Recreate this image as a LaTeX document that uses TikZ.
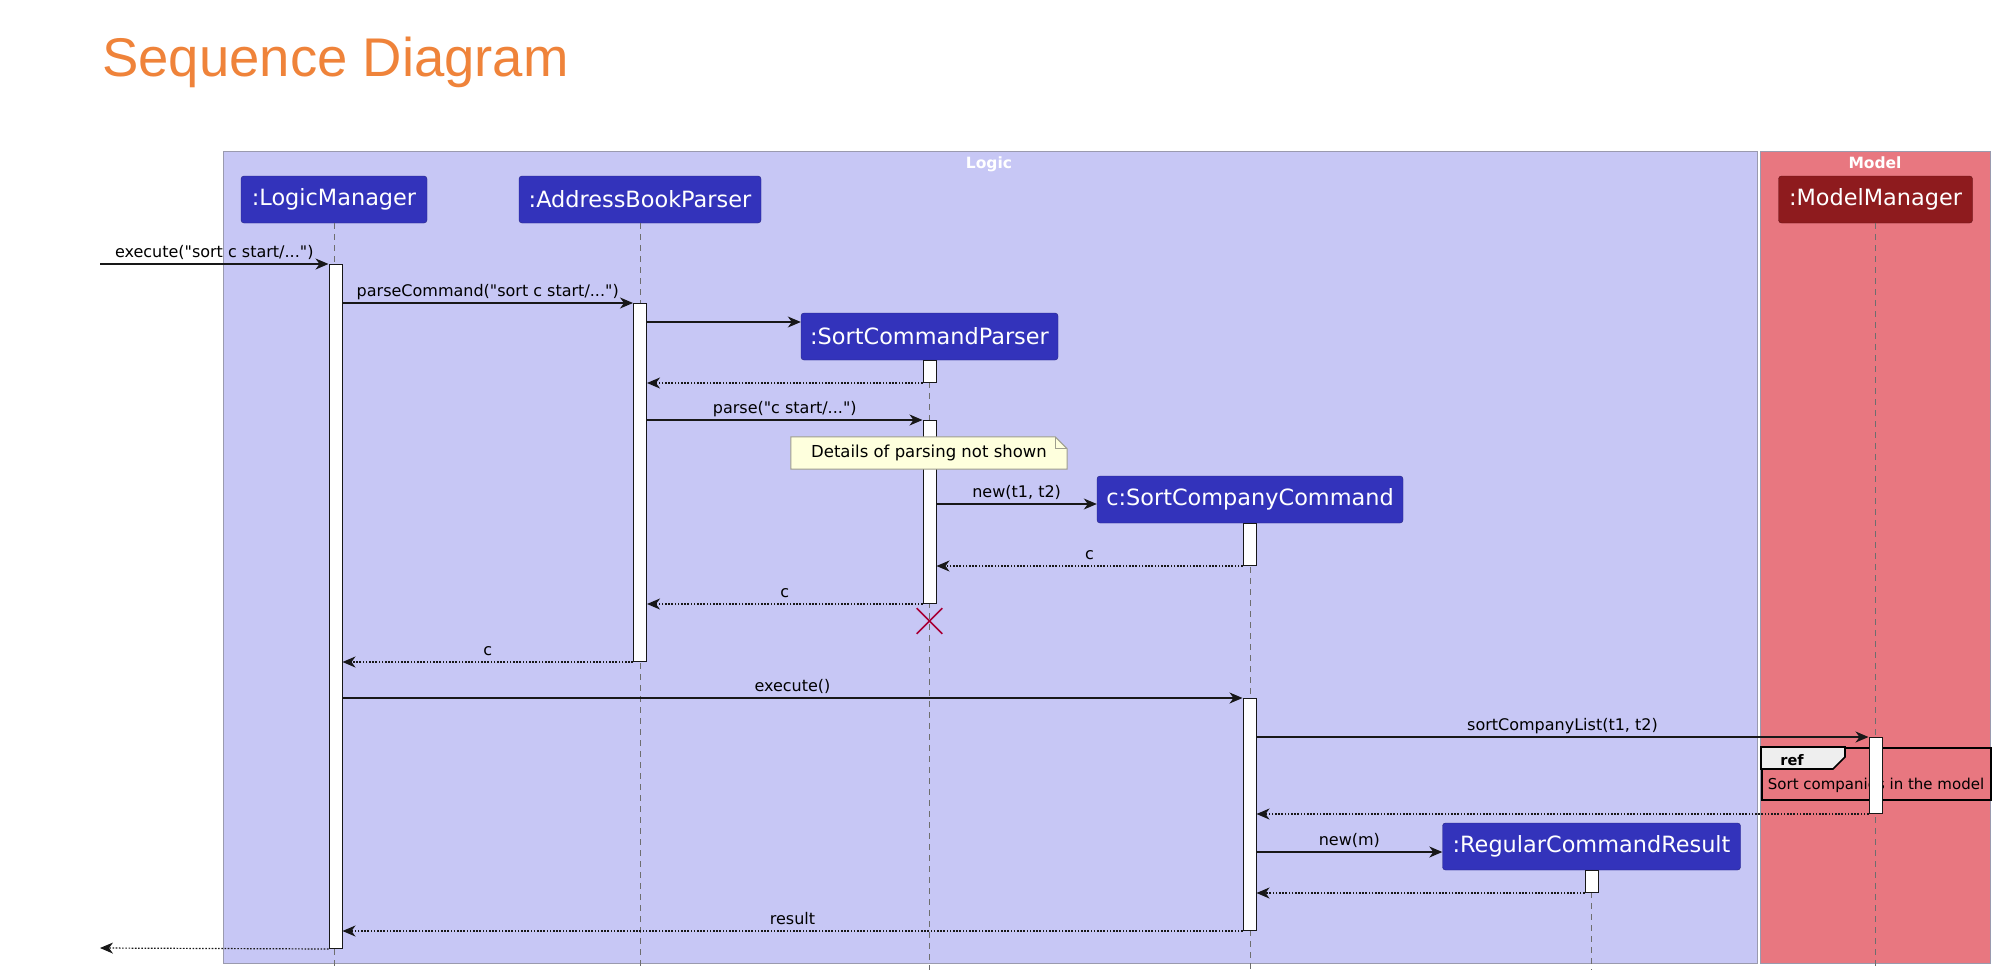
\documentclass[tikz,border=0pt]{standalone}
\usepackage{fontspec}
\setmainfont{DejaVu Sans}[Ligatures=TeXOff]
\newfontfamily\titlefont{Liberation Sans}
\usetikzlibrary{arrows.meta,shapes.misc}

\definecolor{logicbg}{HTML}{C7C7F5}
\definecolor{modelbg}{HTML}{E87780}
\definecolor{partblue}{HTML}{3333BB}
\definecolor{partred}{HTML}{8E1B1E}
\definecolor{framegray}{HTML}{9A9AAE}
\definecolor{linecol}{HTML}{181818}
\definecolor{lifegray}{HTML}{6E6E6E}
\definecolor{notebg}{HTML}{FEFFDD}
\definecolor{notegray}{HTML}{9E9E8E}
\definecolor{tabgray}{HTML}{EEEEEE}
\definecolor{crimson}{HTML}{A80036}
\definecolor{titleorange}{HTML}{EF833A}

\begin{document}
\begin{tikzpicture}[x=1pt,y=-1pt]
\tikzstyle{msg} = [-{Stealth[length=13pt,width=11pt,inset=4pt]}, line width=1.2pt, draw=linecol]
\tikzstyle{ret} = [msg, dash pattern=on 1.6pt off 1.6pt]
\tikzstyle{life} = [draw=lifegray, line width=0.9pt, dash pattern=on 6pt off 5pt]
\tikzstyle{part} = [fill=partblue, draw=partblue!70!black, rounded corners=3pt, text=white, font=\fontsize{22.4}{26}\selectfont, minimum height=47pt, inner sep=0pt]
\tikzstyle{act} = [fill=white, draw=linecol, line width=1pt, minimum width=13pt, inner sep=0pt, anchor=north]
\tikzstyle{lbl} = [font=\fontsize{16}{18}\selectfont, text=black, inner sep=0pt, anchor=base, yshift=6.5pt]
\tikzstyle{frame} = [draw=framegray, line width=1.2pt, minimum height=812pt, anchor=north west, inner sep=0pt]
\tikzstyle{frlbl} = [font=\bfseries\fontsize{15.5}{17}\selectfont, text=white, inner sep=0pt, anchor=base]
\useasboundingbox (0,0) rectangle (2002,972);

% title
\node[anchor=base west, inner sep=0pt, text=titleorange, font=\titlefont\fontsize{54.5}{60}\selectfont] (title) at (102,76.5) {Sequence Diagram};

% boxes
\node[frame, fill=logicbg, minimum width=1534pt] (logic) at (223,151) {};
\node[frame, fill=modelbg, minimum width=230pt] (model) at (1760,151) {};
\node[frlbl] at (989,168) {Logic};
\node[frlbl] at (1875,168) {Model};

% participants
\node[part, minimum width=186pt] (lm) at (334,199.5) {:LogicManager};
\node[part, minimum width=242pt] (abp) at (640,199.5) {:AddressBookParser};
\node[part, minimum width=257pt] (scp) at (929.5,336.5) {:SortCommandParser};
\node[part, minimum width=306pt] (scc) at (1250,499.5) {c:SortCompanyCommand};
\node[part, minimum width=194pt, fill=partred, draw=partred!70!black] (mm) at (1875.5,199.5) {:ModelManager};
\node[part, minimum width=298pt] (rcr) at (1591.5,846.5) {:RegularCommandResult};

% lifelines
\draw[life] (lm.south) -- (lm.south |- 0,970);
\draw[life] (abp.south) -- (abp.south |- 0,970);
\draw[life] (scp.south) -- (scp.south |- 0,970);
\draw[life] (scc.south) -- (scc.south |- 0,970);
\draw[life] (mm.south) -- (mm.south |- 0,970);
\draw[life] (rcr.south) -- (rcr.south |- 0,970);

% ref frame
\node[draw=black, line width=2pt, minimum width=229pt, minimum height=52pt, anchor=north west, inner sep=0pt] (ref) at (1761,747) {};
\draw[fill=tabgray, line width=1.6pt] (ref.north west) -- ++(84,0) -- ++(0,10) -- ++(-12,12) -- ++(-72,0) -- cycle;
\node[anchor=base, inner sep=0pt, font=\bfseries\fontsize{14.5}{17}\selectfont] at (1792,765) {ref};
\node[anchor=base, inner sep=0pt, font=\fontsize{15}{17}\selectfont] at (1876,789) {Sort companies in the model};

% activations
\node[act, minimum height=684pt] (lmA) at (335.5,264) {};
\node[act, minimum height=358pt] (abpA) at (640,303) {};
\node[act, minimum height=22pt] (scpA1) at (929.5,360) {};
\node[act, minimum height=183pt] (scpA2) at (929.5,420) {};
\node[act, minimum height=42pt] (sccA1) at (1249.5,523) {};
\node[act, minimum height=232pt] (sccA2) at (1249.5,698) {};
\node[act, minimum height=76pt] (mmA) at (1875.5,737) {};
\node[act, minimum height=22pt] (rcrA) at (1591.5,870) {};

% messages
\coordinate (inL) at (100,264);
\coordinate (outL) at (100,948);
\draw[msg] (inL) -- node[lbl] {execute("sort c start/...")} (lmA.north west);
\draw[msg] (lmA.east |- abpA.north) -- node[lbl] {parseCommand("sort c start/...")} (abpA.north west);
\draw[msg] (abpA.east |- 0,322) -- (scp.west |- 0,322);
\draw[ret] (scpA1.south west) -- (abpA.east |- scpA1.south);
\draw[msg] (abpA.east |- scpA2.north) -- node[lbl] {parse("c start/...")} (scpA2.north west);
\draw[msg] (scpA2.east |- 0,504) -- node[lbl] {new(t1, t2)} (scc.west |- 0,504);
\draw[ret] (sccA1.south west) -- node[lbl] {c} (scpA2.east |- sccA1.south);
\draw[ret] (scpA2.south west) -- node[lbl] {c} (abpA.east |- scpA2.south);
\draw[ret] (abpA.south west) -- node[lbl] {c} (lmA.east |- abpA.south);
\draw[msg] (lmA.east |- sccA2.north) -- node[lbl] {execute()} (sccA2.north west);
\draw[msg] (sccA2.east |- mmA.north) -- node[lbl] {sortCompanyList(t1, t2)} (mmA.north west);
\draw[ret] (mmA.south west) -- (sccA2.east |- mmA.south);
\draw[msg] (sccA2.east |- 0,852) -- node[lbl] {new(m)} (rcr.west |- 0,852);
\draw[ret] (rcrA.south west) -- (sccA2.east |- rcrA.south);
\draw[ret] (sccA2.south west) -- node[lbl] {result} (lmA.east |- sccA2.south);
\draw[ret] (lmA.south west) -- (outL);

% note and destroy
\node[minimum width=276pt, minimum height=32pt, inner sep=0pt] (nt) at (929,453) {};
\draw[fill=notebg, draw=notegray, line width=1pt] (nt.north west) -- ([xshift=-12pt]nt.north east) -- ([yshift=-12pt]nt.north east) -- (nt.south east) -- (nt.south west) -- cycle;
\draw[draw=notegray, line width=1pt] ([xshift=-12pt]nt.north east) -- ([xshift=-12pt,yshift=-12pt]nt.north east) -- ([yshift=-12pt]nt.north east);
\node[inner sep=0pt, font=\fontsize{16.5}{19}\selectfont] at (nt.center) {Details of parsing not shown};
\node[draw=crimson, cross out, line width=1.6pt, minimum size=24pt, inner sep=0pt] (xscp) at (929.5,621) {};
\end{tikzpicture}
\end{document}
